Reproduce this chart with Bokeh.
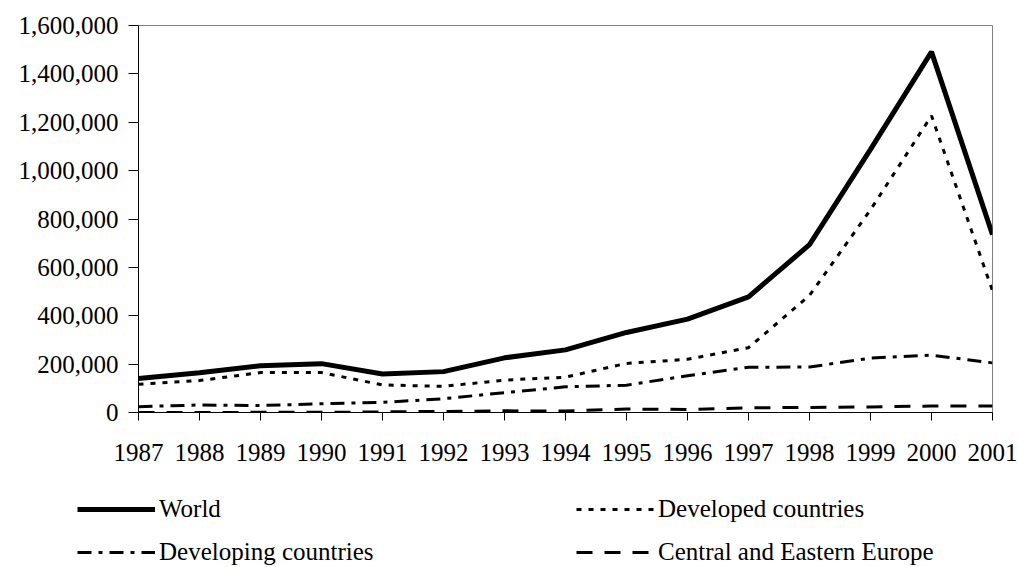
from bokeh.plotting import figure
from bokeh.models import Range1d, FixedTicker, NumeralTickFormatter, Legend, LegendItem
from bokeh.layouts import column
from bokeh.embed import file_html
from bokeh.resources import INLINE

years = list(range(1987, 2002))
world = [141000, 164000, 193000, 202000, 159000, 169000, 226000, 259000,
         331000, 386000, 478000, 694000, 1088000, 1491000, 735000]
developed = [117000, 132000, 165000, 165000, 114000, 108000, 134000, 146000,
             203000, 220000, 268000, 484000, 838000, 1227000, 503000]
developing = [24000, 31000, 29000, 36000, 42000, 57000, 82000, 106000,
              113000, 152000, 187000, 188000, 225000, 237000, 205000]
cee = [100, 200, 600, 600, 2500, 4400, 6800, 6000,
       14300, 12700, 19200, 21000, 23200, 26600, 27200]
y_ticks = [0, 200000, 400000, 600000, 800000, 1000000, 1200000, 1400000, 1600000]
series_names = ["World", "Developed countries", "Developing countries",
                "Central and Eastern Europe"]

FONT = "Liberation Serif"
FS = "25px"

STYLES = {
    "World": dict(line_color="black", line_width=5),
    "Developed countries": dict(line_color="black", line_width=3, line_dash="5 7"),
    "Developing countries": dict(line_color="black", line_width=3, line_dash="14 7 4 7"),
    "Central and Eastern Europe": dict(line_color="black", line_width=3, line_dash="16 12"),
}

p = figure(width=1018, height=470, output_backend="svg", toolbar_location=None,
           x_range=Range1d(1987, 2001), y_range=Range1d(0, 1600000),
           min_border_left=138, min_border_right=26, min_border_top=25,
           min_border_bottom=58)
p.frame_align = False

p.xgrid.visible = False
p.ygrid.visible = False
p.outline_line_color = "#808080"
p.outline_line_width = 1
p.background_fill_color = "white"
p.border_fill_color = "white"

p.yaxis.ticker = FixedTicker(ticks=y_ticks)
p.yaxis.formatter = NumeralTickFormatter(format="0,0")
p.xaxis.ticker = FixedTicker(ticks=years)
for ax in (p.xaxis[0], p.yaxis[0]):
    ax.axis_line_color = "black"
    ax.axis_line_width = 1
    ax.major_tick_line_color = "black"
    ax.major_tick_in = 0
    ax.minor_tick_line_color = None
    ax.major_label_text_font = FONT
    ax.major_label_text_font_size = FS
    ax.major_label_text_color = "black"
p.yaxis.major_tick_out = 10
p.yaxis.major_label_standoff = 10
p.xaxis.major_tick_out = 8
p.xaxis.major_label_standoff = 23

data = {"World": world, "Developed countries": developed,
        "Developing countries": developing, "Central and Eastern Europe": cee}
for name in series_names:
    p.line(years, data[name], **STYLES[name])

# legend panel below the chart
lf = figure(width=1018, height=97, output_backend="svg", toolbar_location=None,
            x_range=Range1d(0, 1), y_range=Range1d(0, 1),
            x_axis_location=None, y_axis_location=None,
            min_border_left=0, min_border_right=0, min_border_top=0,
            min_border_bottom=0)
lf.frame_align = False
lf.xgrid.visible = False
lf.ygrid.visible = False
lf.outline_line_color = None
lf.border_fill_color = "white"

# placeholder renderers (outside the visible range) that only feed the legend
rends = {name: lf.line(x=[-5, -4], y=[-5, -4], **STYLES[name]) for name in series_names}


def make_legend(names, loc):
    return Legend(items=[LegendItem(label=n, renderers=[rends[n]]) for n in names],
                  location=loc, orientation="vertical",
                  padding=0, margin=0, spacing=13,
                  glyph_width=78, glyph_height=30, label_height=30,
                  label_standoff=4,
                  label_text_font=FONT, label_text_font_size=FS,
                  label_text_color="black",
                  border_line_alpha=0, background_fill_alpha=0)


lf.add_layout(make_legend(["World", "Developing countries"], (77, 0)), "center")
lf.add_layout(make_legend(["Developed countries", "Central and Eastern Europe"], (576, 0)), "center")

layout = column(p, lf, spacing=0)
open("out.html", "w").write(file_html(layout, INLINE))
